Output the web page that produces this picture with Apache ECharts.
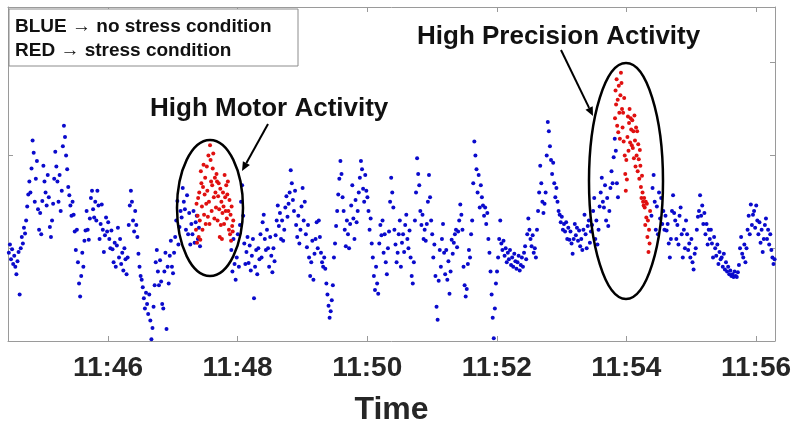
<!DOCTYPE html>
<html>
<head>
<meta charset="utf-8">
<title>Stress condition</title>
<script src="https://cdn.jsdelivr.net/npm/echarts@6/dist/echarts.min.js"></script>
<style>
  html, body { margin: 0; padding: 0; background: #fff; }
  #chart { width: 796px; height: 431px; }
</style>
</head>
<body>
<div id="chart"></div>
<script>
// time in minutes after 11:00, one sample per second
var blueStart = 44.47
var redStart1 = 47.358
var redStart2 = 53.824
var tickMinutes = [46, 48, 50, 52, 54, 56]

var blueValues = [
  9.5, 10.4, 8.8, 9.9, 8.3, 9.2, 8.0, 7.2, 8.6, 9.6,
  5.0, 10.0, 11.2, 10.5, 12.2, 11.6, 13.0, 14.5, 15.8, 17.2,
  16.0, 18.6, 21.6, 20.3, 15.0, 17.5, 19.4, 14.2, 12.0, 13.8,
  11.5, 15.1, 18.9, 17.2, 16.0, 14.6, 17.9, 15.5, 12.3, 11.2,
  13.0, 14.8, 17.5, 20.4, 18.8, 17.2, 15.0, 17.9, 14.0, 16.2,
  21.0, 23.2, 22.0, 20.0, 18.5, 16.6, 15.7, 14.6, 13.5, 15.0,
  13.6, 11.8, 9.8, 12.0, 8.5, 6.2, 4.8, 7.0, 9.5, 8.0,
  10.8, 11.9, 14.0, 12.0, 10.9, 13.2, 15.4, 16.2, 14.2, 13.3,
  15.0, 13.0, 16.2, 14.6, 11.0, 12.6, 14.7, 12.0, 9.6, 11.4,
  13.3, 11.8, 12.8, 11.0, 10.0, 11.9, 9.9, 8.5, 10.6, 8.0,
  10.3, 12.2, 9.0, 11.0, 8.3, 9.5, 7.6, 10.0, 8.8, 7.2,
  9.0, 12.5, 14.6, 16.2, 15.0, 13.0, 11.8, 14.0, 12.5, 11.2,
  9.4, 8.0, 7.0, 6.6, 5.8, 4.6, 3.5, 5.2, 4.0, 2.9,
  5.0, 2.2, 0.2, 1.4, 3.7, 6.0, 8.5, 9.8, 7.5, 6.0,
  8.7, 6.4, 4.0, 3.5, 7.5, 9.5, 1.3, 8.0, 6.2, 9.2,
  10.8, 8.0, 7.3, 9.5, 11.2, 13.0, 15.1, 10.4, 12.3, 14.0,
  13.3, 16.5, 15.0, 14.2, 12.0, 15.7, 11.5, 13.8, 10.4, 12.6,
  11.5, 14.0, 10.6, 12.8, 13.5, 11.0, 12.2, 10.2, null, null,
  null, null, null, null, null, null, null, null, null, null,
  null, null, null, null, null, null, null, null, null, null,
  null, null, null, null, null, null, 9.8, 7.5, 11.0, 8.3,
  6.6, 9.0, 11.5, 8.0, 12.5, 15.0, 16.8, 13.5, 10.5, 8.3,
  9.6, 11.2, 8.4, 10.3, 7.6, 9.2, 11.0, 4.6, 8.0, 9.8,
  7.2, 10.0, 8.8, 11.5, 9.0, 12.8, 13.6, 11.0, 9.8, 12.0,
  10.0, 8.0, 11.2, 9.2, 7.4, 10.0, 8.6, 11.4, 13.0, 14.6,
  12.4, 13.8, 11.0, 13.0, 10.8, 12.0, 14.4, 15.6, 13.4, 14.8,
  16.0, 18.4, 17.0, 15.2, 14.0, 16.2, 12.5, 11.2, 13.5, 10.5,
  12.0, 14.5, 16.5, 13.0, 15.0, 11.5, 10.1, 12.5, 9.0, 7.0,
  8.5, 10.8, 6.6, 9.4, 11.0, 12.8, 10.0, 13.0, 11.2, 9.5,
  8.5, 8.0, 9.0, 7.8, 6.2, 5.0, 3.8, 2.5, 3.2, 4.4,
  6.0, 9.0, 10.5, 12.4, 14.0, 15.8, 17.5, 19.4, 18.0, 15.5,
  14.0, 12.0, 10.2, 13.0, 11.5, 10.0, 12.6, 14.6, 16.8, 13.2,
  11.0, 15.2, 12.8, 14.0, 16.0, 17.6, 19.4, 18.5, 16.4, 15.0,
  17.9, 16.2, 15.5, 14.0, 12.0, 13.2, 10.5, 9.0, 7.0, 5.5,
  8.0, 6.2, 5.1, 10.5, 12.5, 11.4, 13.0, 9.5, 11.5, 8.5,
  7.2, 10.0, 11.8, 15.0, 17.6, 16.0, 14.4, 12.0, 10.4, 8.5,
  9.5, 11.5, 13.0, 8.0, 10.6, 11.5, 9.6, 12.5, 13.6, 11.0,
  10.0, 11.9, 9.0, 7.0, 6.2, 8.5, 13.0, 16.0, 19.7, 18.0,
  16.8, 14.0, 12.5, 13.6, 11.0, 12.0, 10.8, 12.6, 15.0, 17.9,
  15.5, 13.0, 11.5, 9.0, 10.4, 7.0, 3.7, 2.3, 6.5, 9.8,
  8.0, 11.0, 12.6, 9.5, 7.2, 9.8, 6.6, 8.6, 5.1, 7.5,
  10.9, 9.4, 10.6, 11.5, 12.0, 10.1, 11.8, 13.0, 14.7, 13.6,
  12.0, 8.0, 6.0, 4.8, 5.6, 8.3, 9.8, 9.0, 11.5, 13.0,
  17.0, 21.5, 20.0, 18.5, 16.0, 17.9, 14.4, 16.8, 15.5, 14.6,
  13.5, 14.4, 12.6, 13.8, 11.0, 9.5, 7.5, 5.0, 2.5, 0.3,
  3.5, 6.2, 7.5, 9.0, 11.0, 13.0, 10.5, 9.8, 10.8, 9.2,
  10.0, 8.5, 9.5, 8.8, 9.8, 8.2, 9.0, 8.0, 9.4, 8.6,
  7.8, 8.5, 9.2, 7.6, 8.2, 9.0, 8.0, 9.5, 10.2, 8.8,
  11.5, 13.2, 12.0, 11.0, 10.2, 11.4, 9.5, 10.0, 9.0, 12.0,
  14.0, 16.0, 18.9, 17.0, 15.0, 13.8, 14.8, 16.0, 20.0, 23.6,
  22.6, 21.0, 19.5, 18.0, 19.2, 17.0, 15.5, 16.5, 15.0, 14.0,
  13.6, 12.8, 13.4, 12.0, 12.6, 11.8, 12.8, 11.0, 12.2, 10.9,
  11.8, 10.5, 9.4, 11.0, 12.6, 11.4, 12.2, 10.8, 11.9, 10.2,
  11.0, 9.8, 12.0, 13.6, 11.5, 10.0, 12.4, 13.0, 10.6, 11.8,
  12.5, 14.0, 15.4, 11.0, 13.0, 10.4, 12.0, 14.5, 16.0, 17.6,
  15.0, 14.4, 16.8, 13.0, 15.4, 12.4, 14.0, 16.5, 18.3, 17.0,
  19.8, 21.8, 20.5, 17.0, 15.5, null, null, null, null, null,
  null, null, null, null, null, null, null, null, null, null,
  null, null, null, null, null, null, null, null, null, null,
  null, null, null, null, null, 13.5, 16.5, 17.9, 15.0, 12.0,
  14.5, 11.5, 16.0, 13.2, 15.4, 12.6, 14.0, 12.0, 13.5, 11.9,
  12.6, 10.5, 9.0, 11.0, 14.0, 15.7, 13.8, 13.0, 11.0, 12.5,
  10.4, 13.5, 14.4, 11.5, 9.0, 12.0, 10.0, 13.0, 11.5, 9.8,
  10.5, 9.0, 11.0, 8.5, 7.7, 9.4, 10.0, 12.0, 13.4, 14.0,
  15.7, 13.5, 14.6, 12.6, 13.8, 11.5, 12.6, 10.4, 12.0, 11.0,
  12.0, 10.5, 9.0, 11.2, 10.0, 9.2, 10.4, 8.3, 9.6, 8.8,
  9.0, 8.0, 9.4, 7.7, 8.5, 7.5, 8.0, 7.2, 7.6, 7.0,
  7.2, 6.9, 7.5, 7.0, 6.9, 7.4, 8.2, 10.0, 11.2, 9.4,
  9.0, 10.4, 8.5, 10.0, 12.0, 13.5, 11.5, 14.7, 12.5, 13.6,
  14.0, 12.2, 14.6, 13.0, 11.5, 12.8, 10.6, 12.0, 9.6, 11.0,
  12.5, 13.2, 11.0, 12.0, 10.4, 11.5, 9.8, 9.0, 8.3, 8.8
]

// red samples every half second
var redValues1 = [
  12.0, 14.8, 10.6, 13.5, 15.4, 11.2, 16.0, 13.0, 10.9, 18.3,
  17.0, 14.5, 12.0, 16.6, 19.0, 13.6, 15.8, 17.6, 12.6, 14.8,
  18.8, 16.2, 13.4, 20.0, 15.0, 12.6, 21.1, 19.5, 17.2, 14.0,
  16.8, 18.6, 20.2, 15.5, 13.2, 17.6, 16.0, 14.4, 18.0, 17.2,
  13.0, 15.6, 17.0, 14.2, 11.2, 16.4, 12.5, 15.0, 11.0, 13.8,
  16.0, 14.5, 12.6, 17.9, 15.5, 14.0, 16.8, 13.2, 15.8, 17.2,
  14.0, 12.0, 15.2, 11.5, 13.6, 10.8, 14.5, 12.4, 11.8, 13.0
]

var redValues2 = [
  24.0, 27.0, 25.5, 28.2, 23.2, 26.0, 22.5, 27.5, 24.6, 21.8,
  26.5, 28.9, 27.8, 25.0, 23.0, 24.6, 21.5, 26.2, 20.0, 18.0,
  16.2, 19.5, 17.4, 22.0, 24.2, 20.5, 23.5, 25.0, 21.4, 24.0,
  22.8, 21.1, 23.8, 20.8, 22.6, 19.7, 24.3, 21.6, 18.8, 23.0,
  20.0, 22.6, 18.3, 21.2, 19.6, 17.5, 20.6, 18.9, 16.6, 15.4,
  17.8, 16.0, 15.0, 14.6, 15.4, 14.4, 12.5, 15.0, 13.3, 14.8,
  11.2, 13.0, 9.6, 12.0, 10.5, 14.0
]

function toPoints(values, start, stepMin) {
  var pts = []
  values.forEach(function (v, i) {
    if (v !== null) pts.push([start + i * stepMin, v])
  })
  return pts
}

var FONT = '"Liberation Sans", Arial, sans-serif'
var chart = echarts.init(document.getElementById('chart'))

var axisLine = { show: true, onZero: false, lineStyle: { color: '#9a9a9a', width: 1 } }
var tick = { show: true, inside: true, length: 5, lineStyle: { color: '#9a9a9a' } }

chart.setOption({
  animation: false,
  grid: { left: 8, right: 21, top: 7, bottom: 86, containLabel: false },
  xAxis: [
    {
      type: 'value',
      min: 44.457,
      max: 56.293,
      axisLine: axisLine,
      axisTick: Object.assign({ customValues: tickMinutes }, tick),
      splitLine: { show: false },
      axisLabel: {
        customValues: tickMinutes,
        margin: 13,
        color: '#262626',
        fontSize: 28,
        fontWeight: 'bold',
        fontFamily: FONT,
        formatter: function (v) { return '11:' + v }
      },
      name: 'Time',
      nameLocation: 'middle',
      nameGap: 53,
      nameTextStyle: { color: '#262626', fontSize: 32, fontWeight: 'bold', fontFamily: FONT }
    },
    {
      type: 'value',
      position: 'top',
      min: 44.457,
      max: 56.293,
      axisLine: axisLine,
      axisTick: Object.assign({ customValues: tickMinutes }, tick),
      axisLabel: { show: false },
      splitLine: { show: false }
    }
  ],
  yAxis: [
    {
      type: 'value',
      min: 0,
      max: 36,
      interval: 10,
      axisLine: axisLine,
      axisTick: tick,
      axisLabel: { show: false },
      splitLine: { show: false }
    },
    {
      type: 'value',
      position: 'right',
      min: 0,
      max: 36,
      interval: 10,
      axisLine: axisLine,
      axisTick: tick,
      axisLabel: { show: false },
      splitLine: { show: false }
    }
  ],
  series: [
    {
      name: 'no stress',
      type: 'scatter',
      symbolSize: 4,
      itemStyle: { color: '#0a0acc', opacity: 1 },
      data: toPoints(blueValues, blueStart, 1 / 60)
    },
    {
      name: 'stress',
      type: 'scatter',
      symbolSize: 4,
      itemStyle: { color: '#e01010', opacity: 1 },
      data: toPoints(redValues1, redStart1, 1 / 120).concat(toPoints(redValues2, redStart2, 1 / 120))
    }
  ],
  graphic: [
    {
      type: 'rect', z: 100,
      shape: { x: 9, y: 9, width: 289, height: 57 },
      style: { fill: '#fff', stroke: '#8c8c8c', lineWidth: 1 }
    },
    {
      type: 'text', z: 101, x: 15, y: 27,
      style: { text: 'BLUE \u2192 no stress condition', font: 'bold 19px ' + FONT, fill: '#111', verticalAlign: 'middle' }
    },
    {
      type: 'text', z: 101, x: 15, y: 51,
      style: { text: 'RED \u2192 stress condition', font: 'bold 19px ' + FONT, fill: '#111', verticalAlign: 'middle' }
    },
    {
      type: 'text', z: 101, x: 150, y: 109,
      style: { text: 'High Motor Activity', font: 'bold 26px ' + FONT, fill: '#111', verticalAlign: 'middle' }
    },
    {
      type: 'text', z: 101, x: 417, y: 37,
      style: { text: 'High Precision Activity', font: 'bold 26px ' + FONT, fill: '#111', verticalAlign: 'middle' }
    },
    {
      type: 'ellipse', z: 100,
      shape: { cx: 210, cy: 208, rx: 33, ry: 68 },
      style: { fill: 'none', stroke: '#000', lineWidth: 2.5 }
    },
    {
      type: 'ellipse', z: 100,
      shape: { cx: 626, cy: 181, rx: 37, ry: 118 },
      style: { fill: 'none', stroke: '#000', lineWidth: 2.5 }
    },
    {
      type: 'line', z: 100,
      shape: { x1: 268, y1: 124, x2: 246.4, y2: 163.1 },
      style: { stroke: '#000', lineWidth: 2 }
    },
    {
      type: 'polygon', z: 100,
      shape: { points: [[242, 171], [249.9, 165.0], [242.9, 161.2]] },
      style: { fill: '#000' }
    },
    {
      type: 'line', z: 100,
      shape: { x1: 561, y1: 50, x2: 589.1, y2: 107.9 },
      style: { stroke: '#000', lineWidth: 2 }
    },
    {
      type: 'polygon', z: 100,
      shape: { points: [[593, 116], [592.7, 106.2], [585.5, 109.7]] },
      style: { fill: '#000' }
    }
  ]
})
</script>
</body>
</html>
